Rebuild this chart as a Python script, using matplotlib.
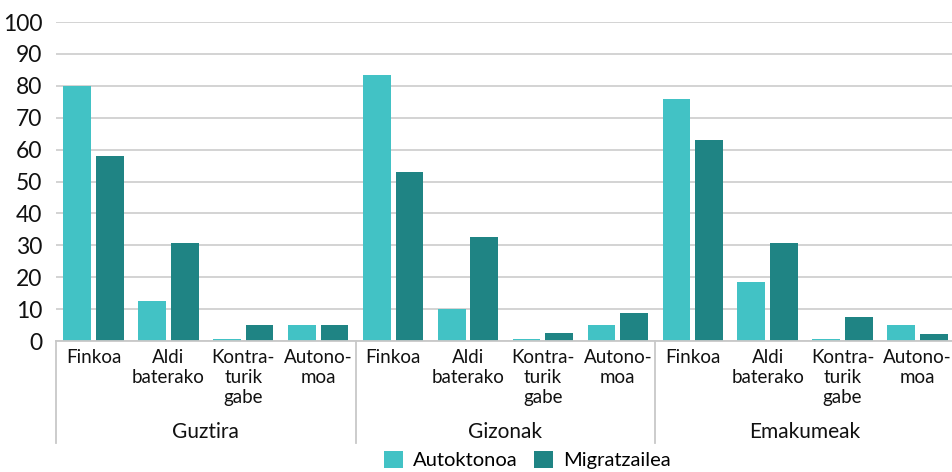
import matplotlib.pyplot as plt
import matplotlib.transforms as mtransforms
import numpy as np

plt.rcParams['font.family'] = ['Lato', 'DejaVu Sans']

groups = ["Guztira", "Gizonak", "Emakumeak"]
categories = ["Finkoa", "Aldi\nbaterako", "Kontra-\nturik\ngabe", "Autono-\nmoa"]
series_names = ["Autoktonoa", "Migratzailea"]
autoktonoa = [80, 12.5, 0.5, 5, 83.5, 10, 0.5, 5, 76, 18.5, 0.5, 5]
migratzailea = [58, 30.7, 5, 5, 53, 32.6, 2.5, 8.8, 63, 30.6, 7.5, 2.3]
colors = ["#42C2C5", "#1F8484"]

fig = plt.figure(figsize=(9.53, 4.72), dpi=100)
ax = fig.add_axes([56 / 953, 131 / 472, 1 - 56 / 953 + 0.002, 319 / 472])

x = np.arange(len(autoktonoa))
w = 0.37
gap = 0.066
ax.bar(x - w / 2 - gap / 2, autoktonoa, w, color=colors[0], label=series_names[0], zorder=2)
ax.bar(x + w / 2 + gap / 2, migratzailea, w, color=colors[1], label=series_names[1], zorder=2)

ax.set_xlim(-0.5, len(x) - 0.5)
ax.set_ylim(0, 100)
ax.set_yticks(range(0, 101, 10))
ax.tick_params(axis='y', length=0, labelsize=16.5, pad=10, colors="#111111")
ax.set_xticks([])
ax.grid(axis='y', color="#D0D0D0", linewidth=1.3, zorder=0)
for s in ["top", "right", "left"]:
    ax.spines[s].set_visible(False)
ax.spines["bottom"].set_color("#C8C8C8")
ax.spines["bottom"].set_linewidth(1.3)

trans = mtransforms.blended_transform_factory(ax.transData, ax.transAxes)
for sx in [-0.5, 3.5, 7.5, 11.5]:
    ax.plot([sx, sx], [0, -0.32], transform=trans, color="#C8C8C8",
            linewidth=1.3, clip_on=False)

for i in x:
    ax.text(i, -0.025, categories[i % 4], transform=trans, ha='center', va='top',
            fontsize=13.5, linespacing=1.22, color="#111111")
for g, name in enumerate(groups):
    ax.text(g * 4 + 1.5, -0.285, name, transform=trans, ha='center', va='center',
            fontsize=15, color="#111111")

fig.legend(loc='center', bbox_to_anchor=(527 / 953, 12 / 472), ncol=2,
           frameon=False, fontsize=14.5, handlelength=0.95, handleheight=0.95,
           columnspacing=0.8, handletextpad=0.5, borderpad=0.1)

fig.savefig("out.png", dpi=100)
